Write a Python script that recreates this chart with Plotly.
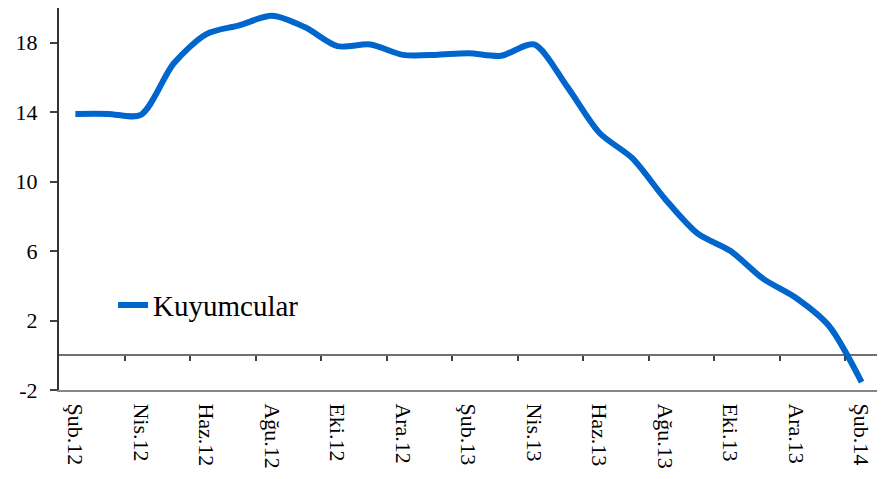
import plotly.graph_objects as go

# monthly series, Şub.12 .. Şub.14
months = [
    "Şub.12", "Mar.12", "Nis.12", "May.12", "Haz.12", "Tem.12", "Ağu.12",
    "Eyl.12", "Eki.12", "Kas.12", "Ara.12", "Oca.13", "Şub.13", "Mar.13",
    "Nis.13", "May.13", "Haz.13", "Tem.13", "Ağu.13", "Eyl.13", "Eki.13",
    "Kas.13", "Ara.13", "Oca.14", "Şub.14",
]
kuyumcular = [
    13.9, 13.9, 13.85, 16.8, 18.5, 19.0, 19.55, 18.9, 17.8, 17.9, 17.3, 17.3,
    17.4, 17.25, 17.9, 15.5, 12.8, 11.35, 9.0, 7.0, 6.0, 4.4, 3.3, 1.7, -1.55,
]
y_ticks = [-2, 2, 6, 10, 14, 18]
y_tick_text = ["-2", "2", "6", "10", "14", "18"]

FONT = "Liberation Serif, Times New Roman, serif"
BLUE = "#0066CC"
FRAME = "#868686"

x_idx = list(range(len(months)))
label_idx = x_idx[::2]
boundary_ticks = [i + 1.5 for i in label_idx[:-1]]
x_range = [-0.5, len(months) - 0.5]
y_range = [-2, 20]

fig = go.Figure()

fig.add_trace(
    go.Scatter(
        x=x_idx,
        y=kuyumcular,
        mode="lines",
        name="Kuyumcular",
        line=dict(color=BLUE, width=6, shape="spline", smoothing=0.8),
    )
)
# empty helper so the zero-line tick axis (x2) gets a subplot and is drawn
fig.add_trace(
    go.Scatter(
        x=[], y=[], xaxis="x2", yaxis="y", mode="lines",
        showlegend=False, hoverinfo="skip",
    )
)

# grey right edge of the frame
fig.add_shape(
    type="line", xref="paper", yref="paper", x0=1, x1=1, y0=0, y1=1,
    line=dict(color=FRAME, width=2), layer="above",
)

fig.update_layout(
    # page body has an 8px margin, so keep the figure inside the window
    width=877,
    height=463,
    margin=dict(l=51, r=7, t=0, b=81),
    paper_bgcolor="white",
    plot_bgcolor="white",
    font=dict(family=FONT, size=22, color="black"),
    showlegend=True,
    legend=dict(
        x=0.066, y=0.222, xanchor="left", yanchor="middle",
        bgcolor="rgba(0,0,0,0)",
        font=dict(family=FONT, size=29, color="black"),
    ),
    xaxis=dict(
        range=x_range,
        tickmode="array",
        tickvals=label_idx,
        ticktext=[months[i] for i in label_idx],
        tickangle=90,
        ticks="",
        showgrid=False,
        zeroline=False,
        showline=True,
        linecolor=FRAME,
        linewidth=2,
        mirror=True,
        automargin=False,
        ticklabelstandoff=7,
    ),
    # ticks sitting on the zero line, between category pairs
    xaxis2=dict(
        overlaying="x",
        anchor="free",
        side="bottom",
        position=(0 - y_range[0]) / (y_range[1] - y_range[0]),
        range=x_range,
        tickmode="array",
        tickvals=boundary_ticks,
        ticks="outside",
        ticklen=5,
        tickwidth=1.5,
        tickcolor="#404040",
        showticklabels=False,
        showgrid=False,
        zeroline=False,
        showline=False,
        automargin=False,
    ),
    yaxis=dict(
        range=y_range,
        tickmode="array",
        tickvals=y_ticks,
        ticktext=y_tick_text,
        ticks="outside",
        ticklen=7,
        tickwidth=1.5,
        tickcolor="#404040",
        showgrid=False,
        zeroline=True,
        zerolinecolor="#707070",
        zerolinewidth=1.5,
        showline=True,
        linecolor="#333333",
        linewidth=2,
        mirror=False,
        automargin=False,
        ticklabelstandoff=8,
    ),
)

fig.write_html("out.html")
